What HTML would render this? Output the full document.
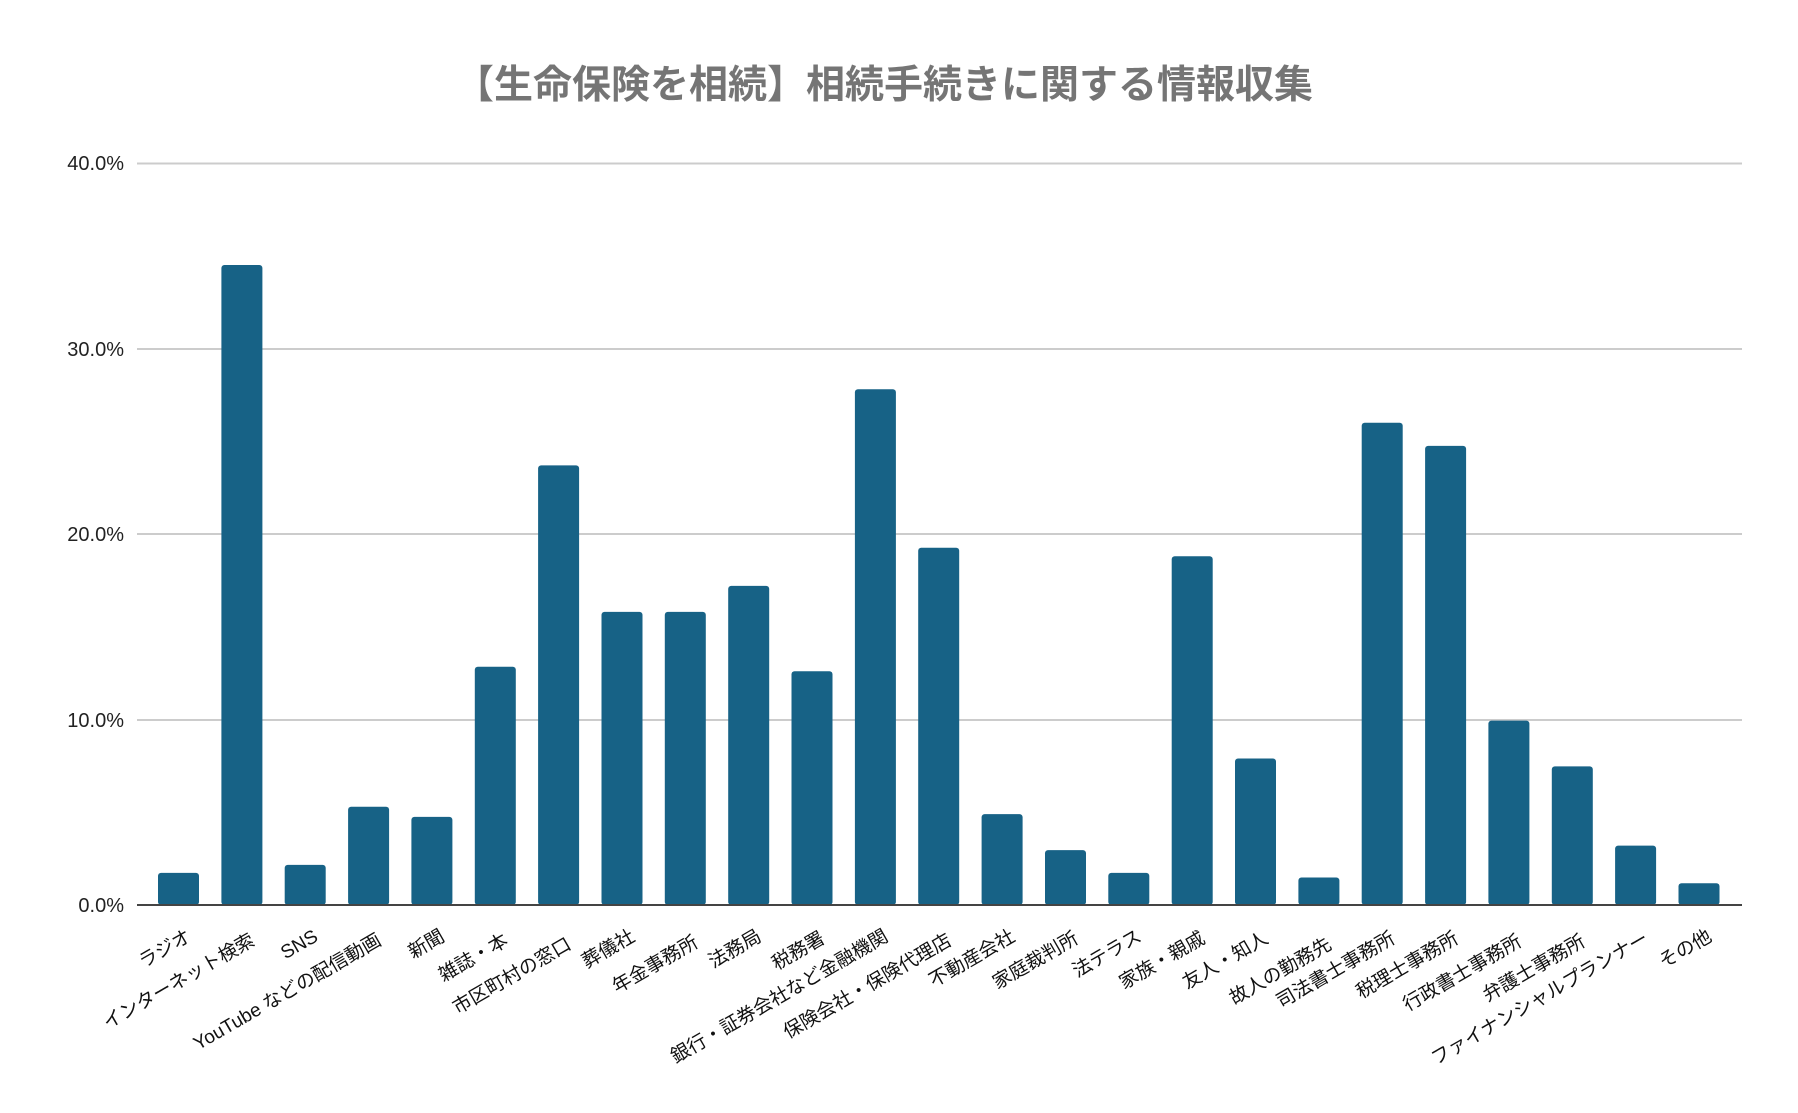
<!DOCTYPE html>
<html><head><meta charset="utf-8"><style>
html,body{margin:0;padding:0;background:#fff}
svg{display:block}
</style></head><body>
<svg width="1798" height="1113" viewBox="0 0 1798 1113" xmlns="http://www.w3.org/2000/svg">
<rect width="1798" height="1113" fill="#fff"/>
<text x="884" y="98" text-anchor="middle" font-family="'Liberation Sans','Noto Sans CJK JP',sans-serif" font-weight="bold" font-size="39" fill="#757575">【生命保険を相続】相続手続きに関する情報収集</text>
<g stroke="#cccccc" stroke-width="2">
<line x1="137" y1="163.5" x2="1742" y2="163.5"/>
<line x1="137" y1="349" x2="1742" y2="349"/>
<line x1="137" y1="534" x2="1742" y2="534"/>
<line x1="137" y1="720" x2="1742" y2="720"/>
</g>
<g font-family="'Liberation Sans',sans-serif" font-size="20" fill="#222" text-anchor="end">
<text x="124" y="170">40.0%</text>
<text x="124" y="356">30.0%</text>
<text x="124" y="541">20.0%</text>
<text x="124" y="727">10.0%</text>
<text x="124" y="912">0.0%</text>
</g>
<g fill="#176286">
<rect x="158" y="872.9" width="41" height="32.1" rx="3"/>
<rect x="221.4" y="265" width="41" height="640" rx="3"/>
<rect x="284.7" y="864.9" width="41" height="40.1" rx="3"/>
<rect x="348.1" y="806.7" width="41" height="98.3" rx="3"/>
<rect x="411.4" y="816.9" width="41" height="88.1" rx="3"/>
<rect x="474.8" y="666.8" width="41" height="238.2" rx="3"/>
<rect x="538.1" y="465.4" width="41" height="439.6" rx="3"/>
<rect x="601.5" y="611.9" width="41" height="293.1" rx="3"/>
<rect x="664.8" y="611.9" width="41" height="293.1" rx="3"/>
<rect x="728.2" y="585.9" width="41" height="319.1" rx="3"/>
<rect x="791.5" y="671.3" width="41" height="233.7" rx="3"/>
<rect x="854.9" y="389.3" width="41" height="515.7" rx="3"/>
<rect x="918.2" y="547.7" width="41" height="357.3" rx="3"/>
<rect x="981.6" y="814.1" width="41" height="90.9" rx="3"/>
<rect x="1045" y="850.1" width="41" height="54.9" rx="3"/>
<rect x="1108.3" y="872.9" width="41" height="32.1" rx="3"/>
<rect x="1171.7" y="556.3" width="41" height="348.7" rx="3"/>
<rect x="1235" y="758.5" width="41" height="146.5" rx="3"/>
<rect x="1298.4" y="877.5" width="41" height="27.5" rx="3"/>
<rect x="1361.7" y="422.7" width="41" height="482.3" rx="3"/>
<rect x="1425.1" y="445.9" width="41" height="459.1" rx="3"/>
<rect x="1488.4" y="720.6" width="41" height="184.4" rx="3"/>
<rect x="1551.8" y="766.4" width="41" height="138.6" rx="3"/>
<rect x="1615.1" y="845.6" width="41" height="59.4" rx="3"/>
<rect x="1678.5" y="883.3" width="41" height="21.7" rx="3"/>
</g>
<line x1="137" y1="905" x2="1742" y2="905" stroke="#444" stroke-width="2"/>
<g font-family="'Liberation Sans','Noto Sans CJK JP',sans-serif" font-size="19" fill="#111" text-anchor="end">
<text x="192.5" y="940" transform="rotate(-30 192.5 940)">ラジオ</text>
<text x="255.9" y="944" transform="rotate(-30 255.9 944)">インターネット検索</text>
<text x="319.2" y="940" transform="rotate(-30 319.2 940)">SNS</text>
<text x="382.6" y="944" transform="rotate(-30 382.6 944)">YouTube などの配信動画</text>
<text x="445.9" y="940" transform="rotate(-30 445.9 940)">新聞</text>
<text x="509.3" y="944" transform="rotate(-30 509.3 944)">雑誌・本</text>
<text x="572.6" y="948" transform="rotate(-30 572.6 948)">市区町村の窓口</text>
<text x="636" y="940" transform="rotate(-30 636 940)">葬儀社</text>
<text x="699.3" y="946" transform="rotate(-30 699.3 946)">年金事務所</text>
<text x="762.7" y="940" transform="rotate(-30 762.7 940)">法務局</text>
<text x="826" y="942" transform="rotate(-30 826 942)">税務署</text>
<text x="889.4" y="940" transform="rotate(-30 889.4 940)">銀行・証券会社など金融機関</text>
<text x="952.7" y="944" transform="rotate(-30 952.7 944)">保険会社・保険代理店</text>
<text x="1016.1" y="940" transform="rotate(-30 1016.1 940)">不動産会社</text>
<text x="1079.5" y="942" transform="rotate(-30 1079.5 942)">家庭裁判所</text>
<text x="1142.8" y="940" transform="rotate(-30 1142.8 940)">法テラス</text>
<text x="1206.2" y="942" transform="rotate(-30 1206.2 942)">家族・親戚</text>
<text x="1269.5" y="942" transform="rotate(-30 1269.5 942)">友人・知人</text>
<text x="1332.9" y="948" transform="rotate(-30 1332.9 948)">故人の勤務先</text>
<text x="1396.2" y="942" transform="rotate(-30 1396.2 942)">司法書士事務所</text>
<text x="1459.6" y="942" transform="rotate(-30 1459.6 942)">税理士事務所</text>
<text x="1522.9" y="945" transform="rotate(-30 1522.9 945)">行政書士事務所</text>
<text x="1586.3" y="945" transform="rotate(-30 1586.3 945)">弁護士事務所</text>
<text x="1649.6" y="942" transform="rotate(-30 1649.6 942)">ファイナンシャルプランナー</text>
<text x="1713" y="940" transform="rotate(-30 1713 940)">その他</text>
</g>
</svg>
</body></html>
